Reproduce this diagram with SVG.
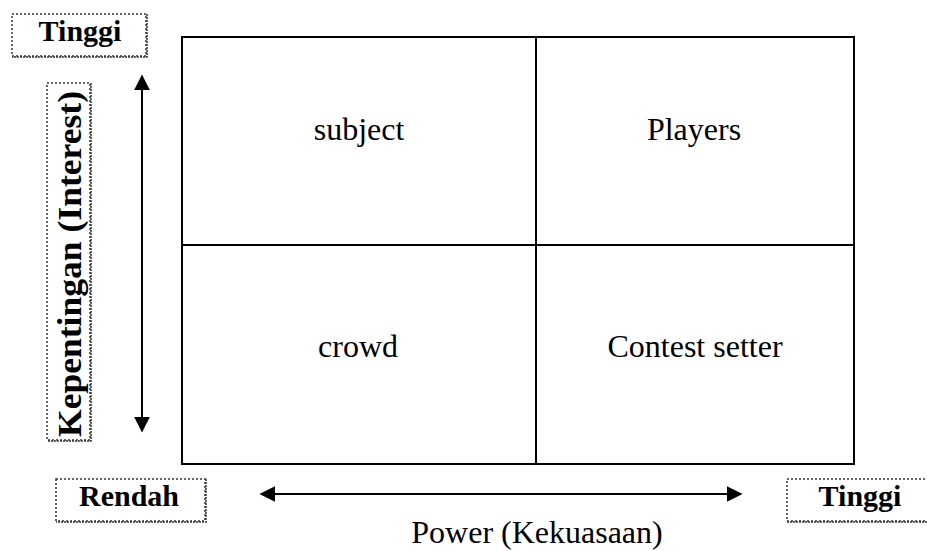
<svg xmlns="http://www.w3.org/2000/svg" width="927" height="551" viewBox="0 0 927 551">
<style>
.lbl{font-family:"Liberation Serif","Times New Roman",Times,"DejaVu Serif",serif;font-weight:bold;font-size:30px;fill:#000;text-anchor:middle}
.vlbl{font-size:34px}
.cell{font-family:"Liberation Serif","Times New Roman",Times,"DejaVu Serif",serif;font-size:32px;fill:#000;text-anchor:middle}
.dot{fill:none;stroke:#333;stroke-width:1.5;stroke-dasharray:2 2}
.sh{fill:none;stroke:#333;stroke-width:1.5;stroke-dasharray:2 1}
.grid{fill:none;stroke:#000;stroke-width:2}
.arr{stroke:#000;stroke-width:2;fill:none}
</style>
<defs>
<marker id="ah2" viewBox="0 0 10 10" refX="9" refY="5" markerWidth="16" markerHeight="16" markerUnits="userSpaceOnUse" orient="auto-start-reverse">
<path d="M0,0 L10,5 L0,10 Z" fill="#000"/>
</marker>
</defs>
<rect width="927" height="551" fill="#fff"/>
<g id="matrix">
<rect class="grid" x="182" y="37" width="672" height="427"/>
<line class="grid" x1="536" y1="37" x2="536" y2="464"/>
<line class="grid" x1="182" y1="245" x2="854" y2="245"/>
</g>
<g id="cell-subject"><text class="cell" x="359" y="140">subject</text></g>
<g id="cell-players"><text class="cell" x="694" y="140">Players</text></g>
<g id="cell-crowd"><text class="cell" x="358" y="357">crowd</text></g>
<g id="cell-contest"><text class="cell" x="695" y="357">Contest setter</text></g>
<g id="label-tinggi-top">
<rect class="dot" x="12" y="14" width="134" height="42"/>
<path class="sh" d="M147,14 V57 H12"/>
<text class="lbl" x="80" y="41">Tinggi</text>
</g>
<g id="label-interest">
<rect class="dot" x="47" y="83" width="43" height="357"/>
<path class="sh" d="M91,83 V441 H47"/>
<text class="lbl vlbl" transform="translate(81,264) rotate(-90)" x="0" y="0" textLength="346" lengthAdjust="spacingAndGlyphs">Kepentingan (Interest)</text>
</g>
<g id="label-rendah">
<rect class="dot" x="56" y="479" width="149" height="42"/>
<path class="sh" d="M206,479 V522 H56"/>
<text class="lbl" x="129" y="506">Rendah</text>
</g>
<g id="label-tinggi-right">
<rect class="dot" x="787" y="479" width="142" height="42"/>
<path class="sh" d="M787,522 H929"/>
<text class="lbl" x="860" y="506">Tinggi</text>
</g>
<g id="label-power"><text class="cell" x="537" y="543">Power (Kekuasaan)</text></g>
<g id="connectors">
<line class="arr" x1="142" y1="76" x2="142" y2="431" marker-start="url(#ah2)" marker-end="url(#ah2)"/>
<line class="arr" x1="261" y1="494" x2="741" y2="494" marker-start="url(#ah2)" marker-end="url(#ah2)"/>
</g>
</svg>
